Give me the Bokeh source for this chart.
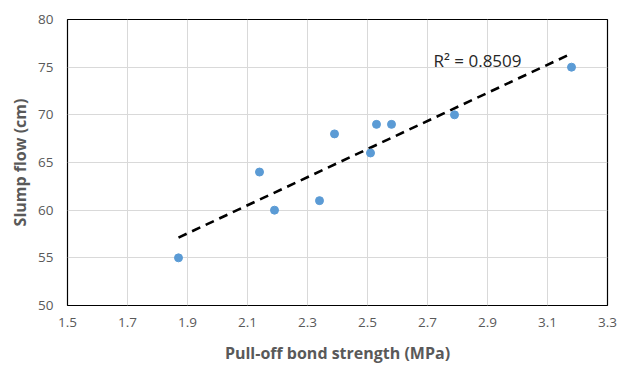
import numpy as np
from bokeh.plotting import figure
from bokeh.models import Range1d, FixedTicker, Label
from bokeh.embed import file_html
from bokeh.resources import INLINE

# Data
pull_off_strength = [1.87, 2.14, 2.19, 2.34, 2.39, 2.51, 2.53, 2.58, 2.79, 3.18]
slump_flow = [55, 64, 60, 61, 68, 66, 69, 69, 70, 75]
x_ticks = [1.5, 1.7, 1.9, 2.1, 2.3, 2.5, 2.7, 2.9, 3.1, 3.3]
y_ticks = [50, 55, 60, 65, 70, 75, 80]
r2_text = "R² = 0.8509"
x_title = "Pull-off bond strength (MPa)"
y_title = "Slump flow (cm)"

FONT = "Open Sans"
GRAY = "#595959"

p = figure(width=625, height=370, output_backend="svg", toolbar_location=None,
           x_range=Range1d(1.5, 3.3), y_range=Range1d(50, 80),
           min_border_left=67, min_border_right=18, min_border_top=19, min_border_bottom=65)

p.background_fill_color = "white"
p.border_fill_color = "white"
p.outline_line_color = "black"
p.outline_line_width = 1.2

p.xaxis.ticker = FixedTicker(ticks=x_ticks)
p.yaxis.ticker = FixedTicker(ticks=y_ticks)
p.xaxis.major_label_overrides = {t: f"{t:.1f}" for t in x_ticks}

for ax in (p.xaxis, p.yaxis):
    ax.axis_line_color = None
    ax.major_tick_line_color = None
    ax.minor_tick_line_color = None
    ax.major_tick_out = 0
    ax.major_tick_in = 0
    ax.minor_tick_out = 0
    ax.minor_tick_in = 0
    ax.major_label_text_font = FONT
    ax.major_label_text_font_size = "13.5px"
    ax.major_label_text_color = GRAY
    ax.axis_label_text_font = FONT
    ax.axis_label_text_font_size = "16px"
    ax.axis_label_text_font_style = "bold"
    ax.axis_label_text_color = GRAY

p.xaxis.axis_label = x_title
p.yaxis.axis_label = y_title
p.xaxis.major_label_standoff = 12
p.xaxis.axis_label_standoff = 12
p.yaxis.major_label_standoff = 14
p.yaxis.axis_label_standoff = 4

p.xgrid.grid_line_color = "#d9d9d9"
p.ygrid.grid_line_color = "#d9d9d9"
p.xgrid.grid_line_width = 1
p.ygrid.grid_line_width = 1

# Linear trendline fitted to the data (as the spreadsheet did)
xs = np.array(pull_off_strength)
ys = np.array(slump_flow)
slope, intercept = np.polyfit(xs, ys, 1)
tx = [xs.min(), xs.max()]
ty = [slope * v + intercept for v in tx]
p.line(tx, ty, line_color="black", line_width=2.6, line_dash="9 6")

p.scatter(pull_off_strength, slump_flow, size=8, fill_color="#5B9BD5", line_color="#5B9BD5")

p.add_layout(Label(x=2.72, y=75.75, text=r2_text, text_font=FONT, text_font_size="17px",
                   text_color="#262626", text_baseline="alphabetic"))

open("out.html", "w").write(file_html(p, INLINE))
